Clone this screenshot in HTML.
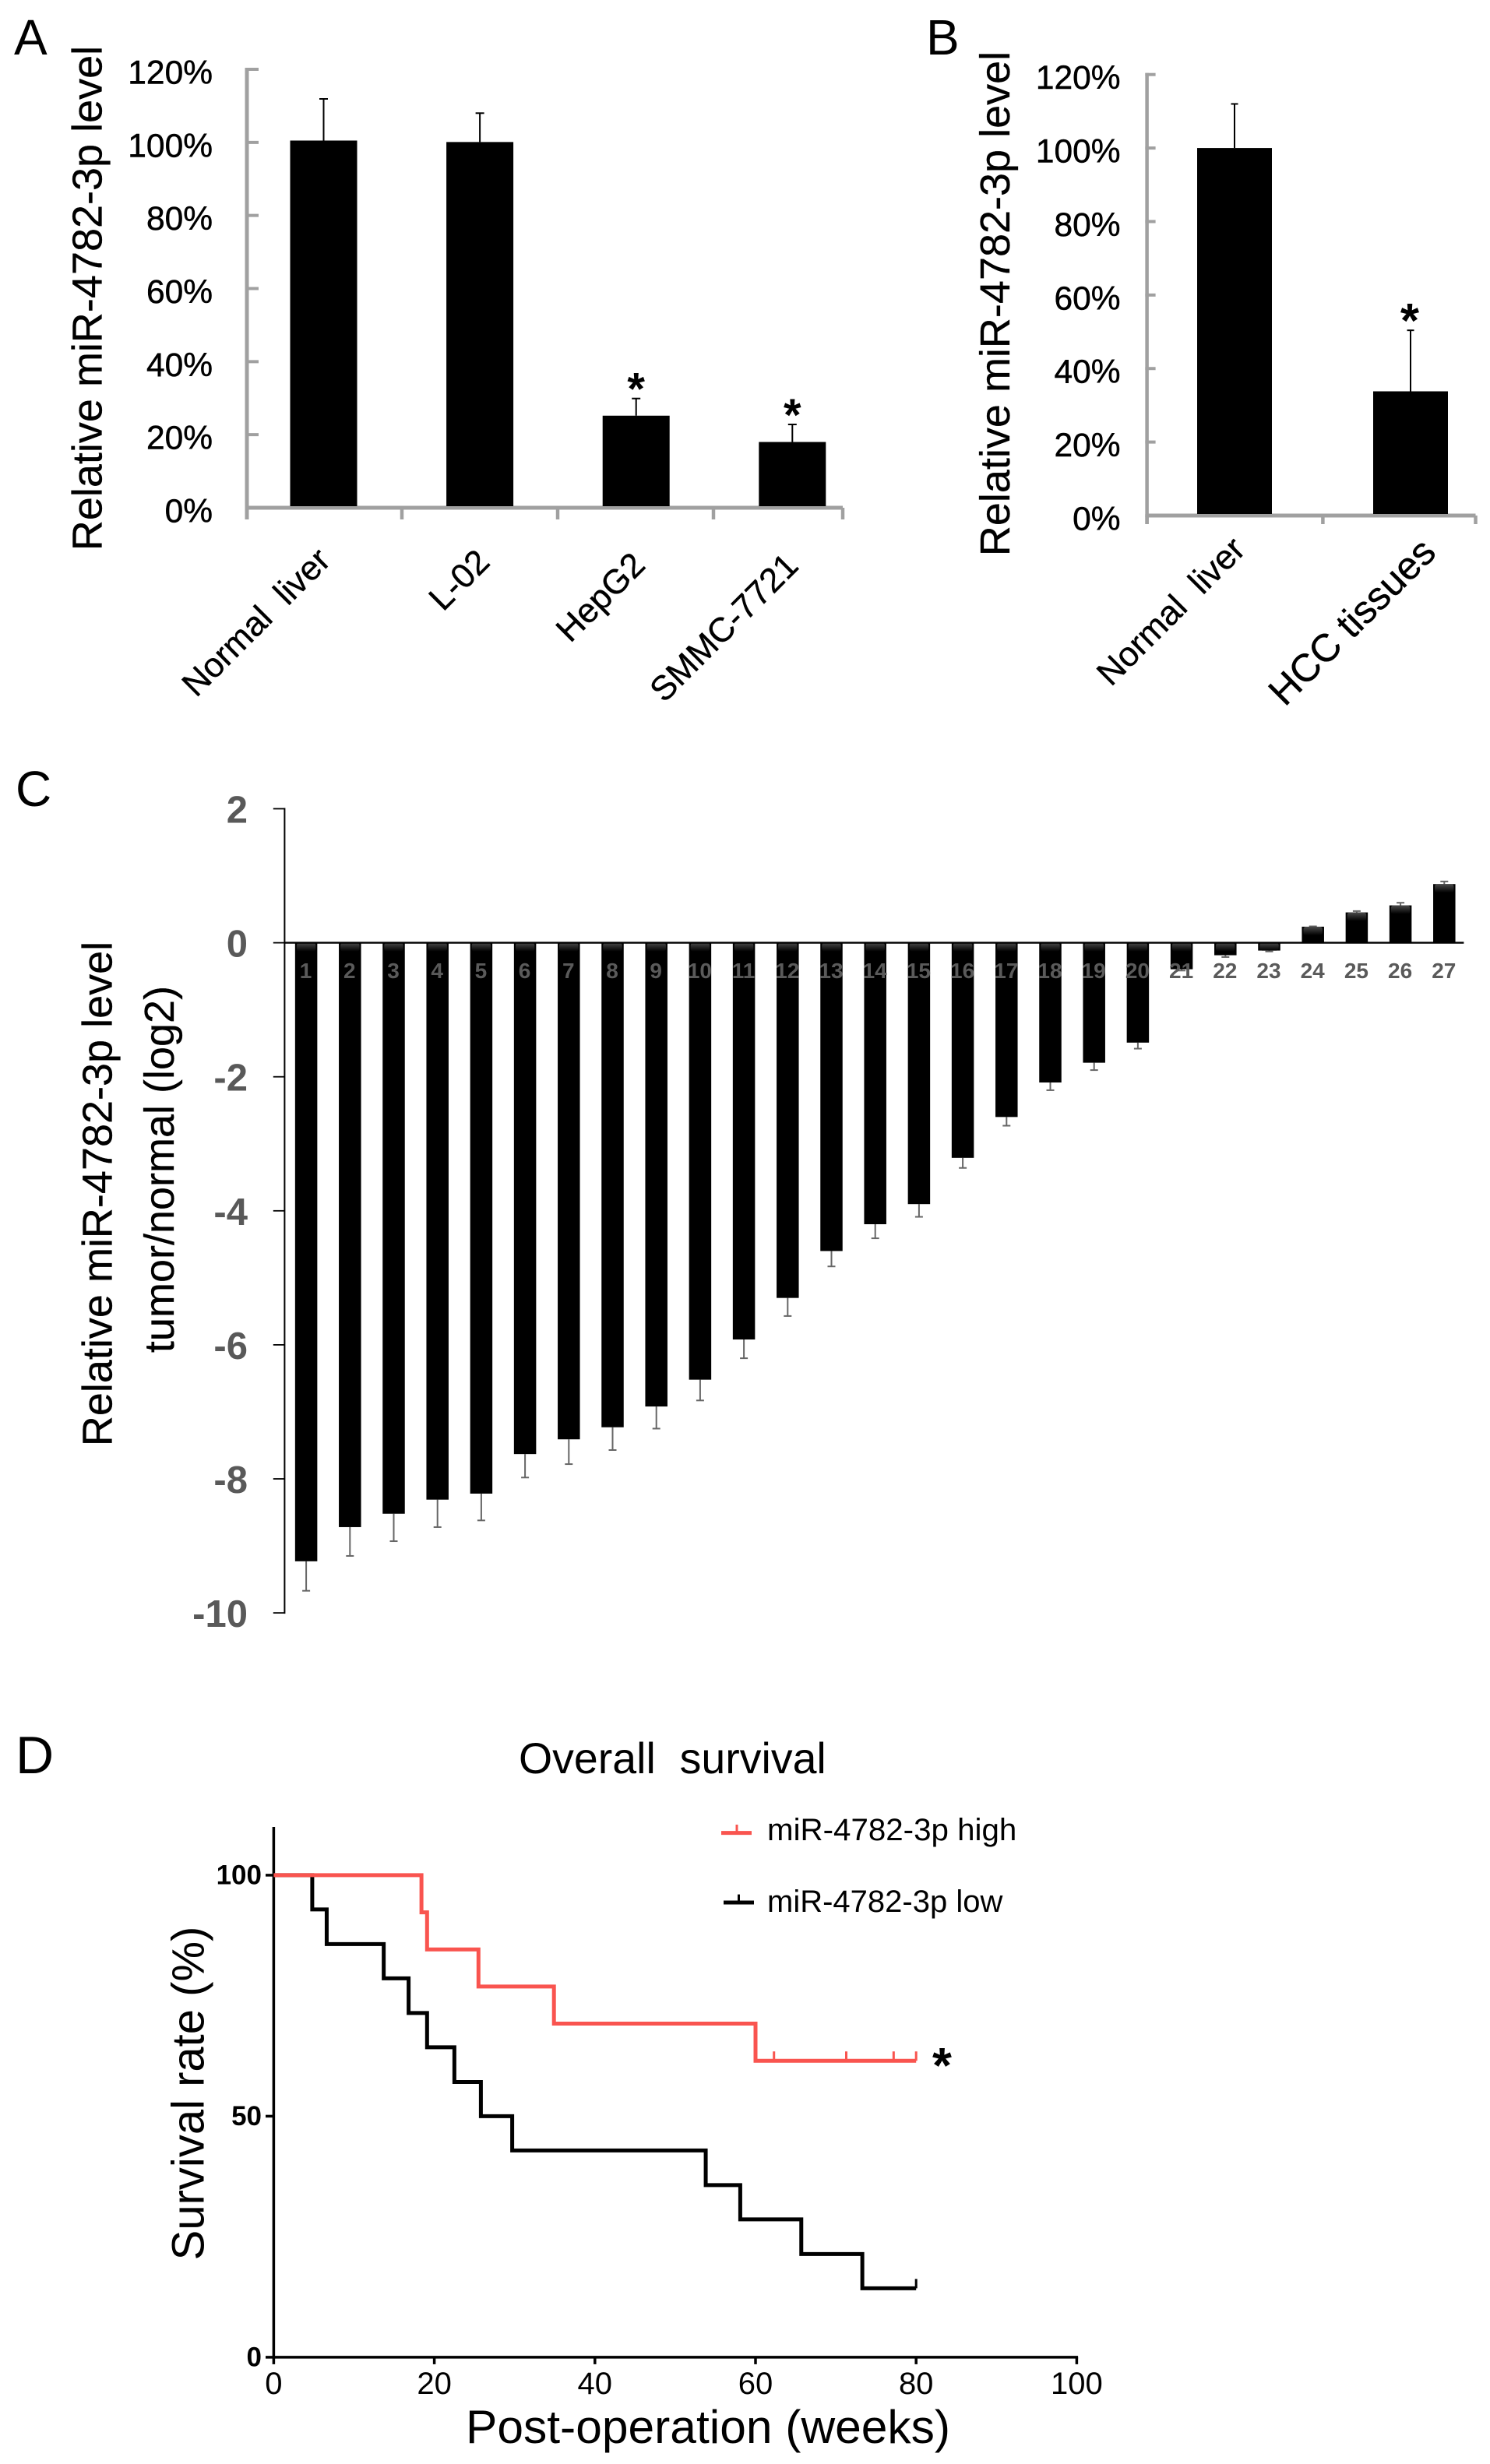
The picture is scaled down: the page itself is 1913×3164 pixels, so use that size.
<!DOCTYPE html>
<html lang="en">
<head>
<meta charset="utf-8">
<title>miR-4782-3p expression figure</title>
<style>
html,body{margin:0;padding:0;background:#fff;}
#figure{display:block;width:1913px;height:3164px;font-family:"Liberation Sans",Arial,sans-serif;}
text{white-space:pre;}
.letter{font-size:64px;fill:#000;}
.axis-title{font-size:54px;fill:#000;stroke:#000;stroke-width:.3px;}
.tick-a{font-size:42.5px;fill:#000;text-anchor:end;stroke:#000;stroke-width:.5px;}
.tick-c{font-size:49px;font-weight:bold;fill:#595959;text-anchor:end;}
.cat-c{font-size:28px;font-weight:bold;fill:#5a5a5a;text-anchor:middle;}
</style>
</head>
<body>
<svg id="figure" xmlns="http://www.w3.org/2000/svg" width="1913" height="3164" viewBox="0 0 1913 3164">
<defs>
<linearGradient id="barShine" x1="0" y1="0" x2="0" y2="1">
<stop offset="0" stop-color="#4a4a4a"/><stop offset="1" stop-color="#000"/>
</linearGradient>
</defs>
<rect width="1913" height="3164" fill="#fff"/>

<text class="letter" x="18" y="70">A</text>
<text class="letter" x="1189" y="70">B</text>
<text class="letter" x="20" y="1035">C</text>
<text class="letter" x="20" y="2277" style="font-size:68px">D</text>

<g id="panelA">
<text class="axis-title" transform="translate(130.5,383) rotate(-90)" text-anchor="middle">Relative miR-4782-3p level</text>
</g>
<g id="panelB">
<text class="axis-title" transform="translate(1296,390) rotate(-90)" text-anchor="middle">Relative miR-4782-3p level</text>
</g>
<g id="panelC">
<text class="axis-title" transform="translate(143.5,1533) rotate(-90)" text-anchor="middle">Relative miR-4782-3p level</text>
<text class="axis-title" transform="translate(223,1501.5) rotate(-90)" text-anchor="middle">tumor/normal (log2)</text>
</g>
<g id="panelD">
<text x="666" y="2277" style="font-size:55.5px">Overall  survival</text>
<text transform="translate(261.5,2688) rotate(-90)" text-anchor="middle" style="font-size:58px">Survival rate (%)</text>
<text x="598" y="3137" style="font-size:60.5px">Post-operation (weeks)</text>
<text x="985" y="2363" style="font-size:40.3px">miR-4782-3p high</text>
<text x="985" y="2455" style="font-size:40px">miR-4782-3p low</text>
</g>
</svg>
<script>
// ---- Panel A data ----
const panelACategories = ['Normal  liver', 'L-02', 'HepG2', 'SMMC-7721'];
const panelAValues = [100.5, 100.1, 25.2, 18];
const panelAErrors = [11.4, 7.9, 4.7, 4.8];
const panelASignificant = [false, false, true, true];
const panelATicks = [0, 20, 40, 60, 80, 100, 120];

// ---- Panel B data ----
const panelBCategories = ['Normal  liver', 'HCC tissues'];
const panelBValues = [100, 33.8];
const panelBErrors = [12, 16.6];
const panelBSignificant = [false, true];
const panelBTicks = [0, 20, 40, 60, 80, 100, 120];

// ---- Panel C data ----
const panelCSamples = [1,2,3,4,5,6,7,8,9,10,11,12,13,14,15,16,17,18,19,20,21,22,23,24,25,26,27];
const panelCValues = [-9.23,-8.72,-8.52,-8.31,-8.22,-7.63,-7.41,-7.23,-6.92,-6.52,-5.92,-5.30,-4.60,-4.20,-3.90,-3.21,-2.60,-2.085,-1.79,-1.49,-0.395,-0.186,-0.116,0.24,0.453,0.558,0.876];
const panelCErrors = [0.44,0.43,0.41,0.41,0.40,0.35,0.37,0.34,0.33,0.31,0.28,0.27,0.23,0.21,0.19,0.15,0.13,0.115,0.11,0.09,0.02,0.027,0.014,0.005,0.02,0.039,0.039];
const panelCTicks = [2, 0, -2, -4, -6, -8, -10];

// ---- Panel D data ----
const highTimes = [18.4, 19.1, 25.5, 34.9, 60];
const highSurvival = [92.3, 84.6, 76.9, 69.2, 61.5];
const highCensored = [62.3, 71.3, 77.2, 80];
const lowTimes = [4.8, 6.6, 13.7, 16.8, 19.1, 22.5, 25.8, 29.7, 53.8, 58.1, 65.7, 73.3];
const lowSurvival = [92.9, 85.7, 78.6, 71.4, 64.3, 57.1, 50, 42.9, 35.7, 28.6, 21.4, 14.3];
const lowCensored = [80];
const survivalEnd = 80;
const panelDXTicks = [0, 20, 40, 60, 80, 100];
const panelDYTicks = [0, 50, 100];

const NS = 'http://www.w3.org/2000/svg';
function add(parent, tag, attrs, text) {
  const el = document.createElementNS(NS, tag);
  for (const k in attrs) el.setAttribute(k, attrs[k]);
  if (text !== undefined) el.textContent = text;
  parent.appendChild(el);
  return el;
}
function name(el, n) {
  
  
  return el;
}
function line(parent, x1, y1, x2, y2, stroke, w, n) {
  const el = add(parent, 'line', {x1: x1, y1: y1, x2: x2, y2: y2, stroke: stroke, 'stroke-width': w});
  return name(el, n);
}

// Grey-axis percent bar chart used by panels A and B
function percentChart(cfg) {
  const g = cfg.group;
  const y = v => cfg.y0 - (v / 120) * (cfg.y0 - cfg.yTop);
  const gray = '#a0a0a0';
  cfg.ticks.forEach(t => {
    line(g, cfg.x0 - cfg.axisW / 2, y(t), cfg.x0 + cfg.tickLen, y(t), gray, 4, 'y-tick-' + t);
    const lab = add(g, 'text', {class: 'tick-a', x: cfg.labelX, y: y(t) + 18.5}, t + '%');
    name(lab, 'y-tick-label-' + t);
  });
  line(g, cfg.x0, y(120) - 2, cfg.x0, cfg.y0 + cfg.tickLen, gray, cfg.axisW, 'y-axis');
  line(g, cfg.x0, cfg.y0, cfg.xEnd, cfg.y0, gray, 5, 'x-axis');
  cfg.xTicks.forEach((xt, i) => {
    line(g, xt, cfg.y0, xt, cfg.y0 + cfg.tickLen, gray, 4.5, 'x-tick-' + i);
  });
  cfg.values.forEach((v, i) => {
    const cx = cfg.centers(i);
    const errTop = y(v + cfg.errors[i]);
    line(g, cx, y(v), cx, errTop, '#000', 2, 'error-bar-' + i);
    line(g, cx - cfg.cap / 2, errTop, cx + cfg.cap / 2, errTop, '#000', 2, 'error-cap-' + i);
    const bar = add(g, 'rect', {x: cx - cfg.barW / 2, y: y(v), width: cfg.barW, height: cfg.y0 - 2 - y(v), fill: '#000'});
    name(bar, 'bar-' + i);
    if (cfg.significant[i]) {
      const star = add(g, 'text', {x: cx + cfg.starDx, y: errTop + cfg.starDy, 'text-anchor': 'middle', 'font-size': cfg.starSize, 'font-weight': 'bold'}, '*');
      name(star, 'significance-star-' + i);
    }
    const lay = cfg.labelLayout[i];
    const lab = add(g, 'text', {
      'text-anchor': 'end',
      'font-size': lay.size,
      stroke: '#000',
      'stroke-width': 0.4,
      transform: 'translate(' + (cx + lay.dx) + ',' + lay.y + ') rotate(-45)'
    }, cfg.categories[i]);
    name(lab, 'category-label-' + i);
  });
}

percentChart({
  group: document.getElementById('panelA'),
  x0: 317, xEnd: 1082, y0: 652, yTop: 89, axisW: 5, tickLen: 15, labelX: 273,
  xTicks: [317, 516, 716, 916, 1082],
  centers: i => 415.5 + 200.6 * i,
  barW: 86, cap: 11, starDx: 0, starDy: 8, starSize: 58,
  categories: panelACategories, values: panelAValues, errors: panelAErrors,
  significant: panelASignificant, ticks: panelATicks,
  labelLayout: [{dx: 11, y: 722, size: 44}, {dx: 15, y: 724, size: 44}, {dx: 14, y: 728, size: 44}, {dx: 10, y: 729, size: 44}]
});

percentChart({
  group: document.getElementById('panelB'),
  x0: 1472.6, xEnd: 1894.5, y0: 662, yTop: 95.7, axisW: 4.5, tickLen: 11, labelX: 1438.6,
  xTicks: [1472.6, 1698.4, 1894.5],
  centers: i => 1585 + 226 * i,
  barW: 96, cap: 9, starDx: -1, starDy: 9, starSize: 62,
  categories: panelBCategories, values: panelBValues, errors: panelBErrors,
  significant: panelBSignificant, ticks: panelBTicks,
  labelLayout: [{dx: 16, y: 708, size: 44}, {dx: 35, y: 712, size: 50}]
});

// Panel C
(function () {
  const g = document.getElementById('panelC');
  const x0 = 365.4, xEnd = 1879.4, step = 56.2, barW = 28.5;
  const yScale = v => 1210.6 - v * 86.05;
  const xScale = i => x0 - 0.4 + step * (i + 0.5);
  panelCTicks.forEach(t => {
    line(g, 350.8, yScale(t), x0, yScale(t), '#000', 1.8, 'y-tick-' + t);
    const lab = add(g, 'text', {class: 'tick-c', x: 318, y: yScale(t) + 18}, String(t));
    name(lab, 'y-tick-label-' + t);
  });
  panelCValues.forEach((v, i) => {
    const cx = xScale(i);
    const top = Math.min(yScale(v), yScale(0));
    const h = Math.abs(yScale(v) - yScale(0));
    const end = yScale(v + (v < 0 ? -panelCErrors[i] : panelCErrors[i]));
    line(g, cx, yScale(v), cx, end, '#666', 2, 'error-bar-' + panelCSamples[i]);
    line(g, cx - 5, end, cx + 5, end, '#666', 2, 'error-cap-' + panelCSamples[i]);
    const bar = add(g, 'rect', {x: cx - barW / 2, y: top, width: barW, height: h, fill: '#000'});
    name(bar, 'bar-' + panelCSamples[i]);
    const shine = add(g, 'rect', {x: cx - barW / 2 + 2, y: top, width: barW - 4, height: Math.min(11, h), fill: 'url(#barShine)', rx: 3});
    name(shine, 'bar-highlight-' + panelCSamples[i]);
    const lab = add(g, 'text', {class: 'cat-c', x: cx - 0.5, y: 1256}, String(panelCSamples[i]));
    name(lab, 'sample-label-' + panelCSamples[i]);
  });
  line(g, x0, yScale(2) - 1, x0, yScale(-10) + 1, '#000', 2, 'y-axis');
  line(g, x0, yScale(0), xEnd, yScale(0), '#000', 2.4, 'zero-line');
})();

// Panel D
(function () {
  const g = document.getElementById('panelD');
  const xScale = w => 351.4 + w * 10.31;
  const yScale = p => 3026.9 - p * 6.19;
  function stepPath(times, surv) {
    let d = 'M' + xScale(0) + ' ' + yScale(100);
    let last = 100;
    times.forEach((t, i) => {
      d += ' L' + xScale(t) + ' ' + yScale(last) + ' L' + xScale(t) + ' ' + yScale(surv[i]);
      last = surv[i];
    });
    d += ' L' + xScale(survivalEnd) + ' ' + yScale(last);
    return d;
  }
  panelDXTicks.forEach(t => {
    line(g, xScale(t), yScale(0), xScale(t), yScale(0) + 9, '#000', 3.5, 'x-tick-' + t);
    const lab = add(g, 'text', {x: xScale(t), y: 3074, 'text-anchor': 'middle', 'font-size': 40}, String(t));
    name(lab, 'x-tick-label-' + t);
  });
  panelDYTicks.forEach(t => {
    line(g, 341, yScale(t), xScale(0), yScale(t), '#000', 3.5, 'y-tick-' + t);
    const lab = add(g, 'text', {x: 336, y: yScale(t) + 11.5, 'text-anchor': 'end', 'font-size': 35, 'font-weight': 'bold'}, String(t));
    name(lab, 'y-tick-label-' + t);
  });
  line(g, xScale(0), 2346, xScale(0), yScale(0) + 1.7, '#000', 3.5, 'y-axis');
  line(g, xScale(0), yScale(0), xScale(100) + 1.7, yScale(0), '#000', 3.5, 'x-axis');

  const low = add(g, 'path', {d: stepPath(lowTimes, lowSurvival), fill: 'none', stroke: '#000', 'stroke-width': 5, 'stroke-linejoin': 'miter'});
  name(low, 'survival-curve-low');
  const lowLast = lowSurvival[lowSurvival.length - 1];
  lowCensored.forEach((t, i) => {
    line(g, xScale(t), yScale(lowLast), xScale(t), yScale(lowLast) - 12, '#000', 3, 'censor-mark-low-' + i);
  });

  const high = add(g, 'path', {d: stepPath(highTimes, highSurvival), fill: 'none', stroke: '#f9544f', 'stroke-width': 5, 'stroke-linejoin': 'miter'});
  name(high, 'survival-curve-high');
  const highLast = highSurvival[highSurvival.length - 1];
  highCensored.forEach((t, i) => {
    line(g, xScale(t), yScale(highLast), xScale(t), yScale(highLast) - 12, '#f9544f', 3, 'censor-mark-high-' + i);
  });
  const star = add(g, 'text', {x: 1209.5, y: 2674, 'text-anchor': 'middle', 'font-size': 64, 'font-weight': 'bold'}, '*');
  name(star, 'significance-star-survival');

  line(g, 926, 2353.6, 965, 2353.6, '#f9544f', 5, 'legend-line-high');
  line(g, 946, 2353.6, 946, 2343, '#f9544f', 3, 'legend-tick-high');
  line(g, 929, 2443, 968, 2443, '#000', 5, 'legend-line-low');
  line(g, 948.5, 2443, 948.5, 2432.6, '#000', 3, 'legend-tick-low');
})();
</script>
</body>
</html>
